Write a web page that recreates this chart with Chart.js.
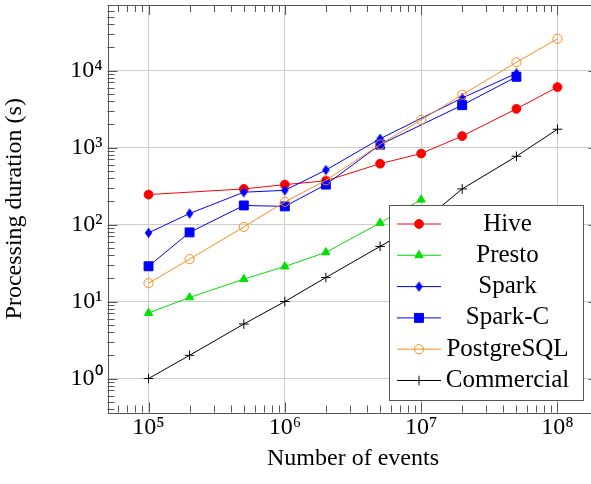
<!DOCTYPE html>
<html>
<head>
<meta charset="utf-8">
<script src="https://cdn.jsdelivr.net/npm/chart.js@4.4.1/dist/chart.umd.min.js"></script>
<style>
html, body { margin: 0; padding: 0; background: #fff; overflow: hidden; }
#wrap { width: 591px; height: 484px; overflow: hidden; }
#runtimeChart { width: 600px; height: 484px; display: block; }
</style>
</head>
<body>
<div id="wrap"><canvas id="runtimeChart" width="600" height="484"></canvas></div>
<script>
const seriesNames = ['Hive', 'Presto', 'Spark', 'Spark-C', 'PostgreSQL', 'Commercial'];

const hiveEvents = [1e5, 5e5, 1e6, 2e6, 5e6, 1e7, 2e7, 5e7, 1e8];
const hiveSeconds = [245, 290, 330, 370, 617, 835, 1410, 3180, 6100];

const prestoEvents = [1e5, 2e5, 5e5, 1e6, 2e6, 5e6, 1e7];
const prestoSeconds = [7.1, 11.3, 19.5, 28.5, 43.5, 105, 210];

const sparkEvents = [1e5, 2e5, 5e5, 1e6, 2e6, 5e6, 2e7, 5e7];
const sparkSeconds = [78, 139, 263, 278, 510, 1300, 4400, 9200];

const sparkCEvents = [1e5, 2e5, 5e5, 1e6, 2e6, 5e6, 2e7, 5e7];
const sparkCSeconds = [28.7, 79, 177, 172, 330, 1090, 3550, 8300];

const postgresEvents = [1e5, 2e5, 5e5, 1e6, 2e6, 5e6, 1e7, 2e7, 5e7, 1e8];
const postgresSeconds = [17.3, 35.5, 93, 197, 375, 1095, 2280, 4850, 12800, 25800];

const commercialEvents = [1e5, 2e5, 5e5, 1e6, 2e6, 5e6, 1e7, 2e7, 5e7, 1e8];
const commercialSeconds = [1, 2, 5.1, 10, 20.5, 52, 105, 290, 770, 1730];

const xTickValues = [1e5, 1e6, 1e7, 1e8];
const yTickValues = [1, 10, 100, 1000, 10000];

const serif = "'Liberation Serif', 'Times New Roman', serif";
const frameColor = '#555555';
const sup = { '0': '⁰', '1': '¹', '2': '²', '3': '³', '4': '⁴', '5': '⁵', '6': '⁶', '7': '⁷', '8': '⁸', '9': '⁹' };
const powerLabel = (v) => '10' + String(Math.round(Math.log10(v))).split('').map((d) => sup[d]).join('');

const toPoints = (xs, ys) => xs.map((x, i) => ({ x, y: ys[i] }));

// pgfplots style diamond* is taller than wide, so build it as an image
const diamond = (() => {
    const c = document.createElement('canvas');
    c.width = 9;
    c.height = 12;
    const g = c.getContext('2d');
    g.fillStyle = '#0000ff';
    g.beginPath();
    g.moveTo(4.5, 0.8);
    g.lineTo(8.2, 6);
    g.lineTo(4.5, 11.2);
    g.lineTo(0.8, 6);
    g.closePath();
    g.fill();
    return c;
})();

const makeSet = (label, xs, ys, color, style, radius, fill, order) => ({
    label,
    data: toPoints(xs, ys),
    borderColor: color,
    borderWidth: 1,
    pointStyle: style,
    pointRadius: radius,
    pointBackgroundColor: fill,
    pointBorderColor: color,
    pointBorderWidth: 1,
    showLine: true,
    tension: 0,
    order
});

// order: later series sit on top, like pgfplots
const datasets = [
    makeSet(seriesNames[0], hiveEvents, hiveSeconds, '#ff0000', 'circle', 4.4, '#ff0000', 6),
    makeSet(seriesNames[1], prestoEvents, prestoSeconds, '#00e000', 'triangle', 4.8, '#00e000', 5),
    makeSet(seriesNames[2], sparkEvents, sparkSeconds, '#0000ff', diamond, 4.5, '#0000ff', 4),
    makeSet(seriesNames[3], sparkCEvents, sparkCSeconds, '#0000ff', 'rect', 6.3, '#0000ff', 3),
    makeSet(seriesNames[4], postgresEvents, postgresSeconds, '#ff8c1a', 'circle', 4.6, 'rgba(255,255,255,0)', 2),
    makeSet(seriesNames[5], commercialEvents, commercialSeconds, '#000000', 'cross', 4.8, '#000000', 1)
];

const decadeMinors = (min, max) => {
    const out = [];
    for (let d = Math.floor(Math.log10(min)); d <= Math.ceil(Math.log10(max)); d++) {
        for (let k = 2; k <= 9; k++) {
            const v = k * Math.pow(10, d);
            if (v > min && v < max) out.push(v);
        }
    }
    return out;
};

const framePlugin = {
    id: 'pgfFrame',
    beforeDatasetsDraw(chart) {
        const { ctx, chartArea: a, scales } = chart;
        ctx.save();
        ctx.strokeStyle = frameColor;
        ctx.lineWidth = 1;
        ctx.beginPath();
        const tick = (len, vals, scale, horizontal) => {
            vals.forEach((v) => {
                const p = Math.round(scale.getPixelForValue(v)) + 0.5;
                if (horizontal) {
                    ctx.moveTo(p, a.bottom); ctx.lineTo(p, a.bottom - len);
                    ctx.moveTo(p, a.top); ctx.lineTo(p, a.top + len);
                } else {
                    ctx.moveTo(a.left, p); ctx.lineTo(a.left + len, p);
                    ctx.moveTo(a.right, p); ctx.lineTo(a.right - len, p);
                }
            });
        };
        tick(7, decadeMinors(scales.x.min, scales.x.max), scales.x, true);
        tick(10, xTickValues, scales.x, true);
        tick(7, decadeMinors(scales.y.min, scales.y.max), scales.y, false);
        tick(10, yTickValues, scales.y, false);
        ctx.stroke();
        ctx.strokeRect(Math.round(a.left) + 0.5, Math.round(a.top) + 0.5,
            Math.round(a.right - a.left), Math.round(a.bottom - a.top));
        ctx.restore();
    }
};

const legendPlugin = {
    id: 'pgfLegend',
    afterDatasetsDraw(chart) {
        const { ctx } = chart;
        const box = { x: 389.5, y: 205.5, w: 194, h: 195 };
        ctx.save();
        ctx.fillStyle = '#ffffff';
        ctx.fillRect(box.x, box.y, box.w, box.h);
        ctx.strokeStyle = frameColor;
        ctx.lineWidth = 1;
        ctx.strokeRect(box.x, box.y, box.w, box.h);
        chart.data.datasets.forEach((ds, i) => {
            const y = 224 + i * 31.3;
            ctx.strokeStyle = ds.borderColor;
            ctx.lineWidth = ds.borderWidth;
            ctx.beginPath();
            ctx.moveTo(397, y);
            ctx.lineTo(441, y);
            ctx.stroke();
            ctx.fillStyle = ds.pointBackgroundColor;
            ctx.strokeStyle = ds.pointBorderColor;
            ctx.lineWidth = ds.pointBorderWidth;
            Chart.helpers.drawPoint(ctx, {
                pointStyle: ds.pointStyle,
                radius: ds.pointRadius,
                rotation: 0,
                borderWidth: ds.pointBorderWidth
            }, 419, y);
            ctx.fillStyle = '#000000';
            ctx.font = `25px ${serif}`;
            ctx.textAlign = 'center';
            ctx.textBaseline = 'middle';
            ctx.fillText(ds.label, 507.5, y);
        });
        ctx.restore();
    }
};

new Chart(document.getElementById('runtimeChart'), {
    type: 'scatter',
    data: { datasets },
    options: {
        responsive: false,
        animation: false,
        events: [],
        layout: { autoPadding: false, padding: { left: 0, top: 5, right: 1.5, bottom: 0 } },
        plugins: {
            legend: { display: false },
            tooltip: { enabled: false }
        },
        scales: {
            x: {
                type: 'logarithmic',
                position: 'bottom',
                min: 5.0e4,
                max: 2.0e8,
                afterBuildTicks: (s) => { s.ticks = xTickValues.map((value) => ({ value })); },
                afterFit: (s) => { s.height = 71.5; s.paddingLeft = 0; s.paddingRight = 0; },
                grid: { color: '#cccccc', lineWidth: 1, drawTicks: false },
                border: { display: false },
                ticks: {
                    padding: 1,
                    color: '#000000',
                    autoSkip: false,
                    maxRotation: 0,
                    font: { family: serif, size: 24 },
                    callback: (v) => powerLabel(v)
                },
                title: {
                    display: true,
                    text: 'Number of events',
                    color: '#000000',
                    font: { family: serif, size: 24 },
                    padding: { top: 0, bottom: 11 }
                }
            },
            y: {
                type: 'logarithmic',
                position: 'left',
                min: 0.362,
                max: 7.1e4,
                afterBuildTicks: (s) => { s.ticks = yTickValues.map((value) => ({ value })); },
                afterFit: (s) => { s.width = 107.5; s.paddingTop = 0; s.paddingBottom = 0; },
                grid: { color: '#cccccc', lineWidth: 1, drawTicks: false },
                border: { display: false },
                ticks: {
                    padding: 5,
                    color: '#000000',
                    autoSkip: false,
                    font: { family: serif, size: 24 },
                    callback: (v) => powerLabel(v)
                },
                title: {
                    display: true,
                    text: 'Processing duration (s)',
                    color: '#000000',
                    font: { family: serif, size: 24 },
                    padding: { top: 0, bottom: 0 }
                }
            }
        }
    },
    plugins: [framePlugin, legendPlugin]
});
</script>
</body>
</html>
